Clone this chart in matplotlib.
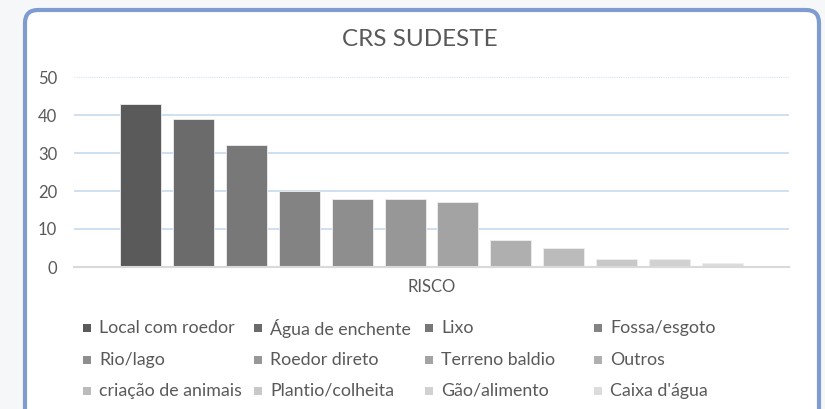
import matplotlib.pyplot as plt
from matplotlib.patches import FancyBboxPatch, Rectangle

# data
categories = ['Local com roedor', 'Água de enchente', 'Lixo', 'Fossa/esgoto',
              'Rio/lago', 'Roedor direto', 'Terreno baldio', 'Outros',
              'criação de animais', 'Plantio/colheita', 'Gão/alimento', "Caixa d'água"]
values = [43, 39, 32, 20, 18, 18, 17, 7, 5, 2, 2, 1]
colors = ['#5a5a5a', '#6b6b6b', '#787878', '#838383', '#8e8e8e', '#979797',
          '#a3a3a3', '#afafaf', '#bbbbbb', '#c8c8c8', '#d1d1d1', '#dcdcdc']
yticks = [0, 10, 20, 30, 40, 50]

plt.rcParams['font.family'] = ['Lato', 'DejaVu Sans']
txt = '#595959'

fig = plt.figure(figsize=(8.25, 4.09), dpi=100, facecolor='#f6f7f9')

# chart frame (blue rounded border)
frame = FancyBboxPatch((0.25, -0.3), 7.94, 4.29, boxstyle='round,pad=0,rounding_size=0.13',
                       transform=fig.dpi_scale_trans, facecolor='white',
                       edgecolor='#7f9cd0', linewidth=3, zorder=-10)
fig.patches.append(frame)

ax = fig.add_axes([74 / 825, 1 - 267 / 409, 715 / 825, 190 / 409])
ax.set_facecolor('none')

x = list(range(len(values)))
ax.bar(x, values, width=0.775, color=colors, edgecolor='#eeeeee', linewidth=0.6, zorder=3)

ax.set_xlim(-1.26, 12.26)
ax.set_ylim(0, 50)
for v in yticks[1:]:
    if v == 50:
        ax.axhline(v, color='#d6e6f4', lw=0.8, ls=(0, (1, 1)), zorder=1, clip_on=False)
    else:
        ax.axhline(v, color='#c6dcef', lw=1.2, zorder=1)
ax.axhline(0, color='#d9d9d9', lw=1.5, zorder=4, clip_on=False)

for s in ax.spines.values():
    s.set_visible(False)
ax.set_yticks(yticks)
ax.tick_params(axis='y', length=0, pad=12, labelsize=12, labelcolor=txt)
ax.set_xticks([(len(values) - 1) / 2])
ax.set_xticklabels(['RISCO'])
ax.tick_params(axis='x', length=0, pad=9, labelsize=12, labelcolor=txt)

fig.text(0.509, 1 - 40 / 409, 'CRS SUDESTE', ha='center', va='center', fontsize=17.5, color=txt)

# legend, 4 equal columns filled row by row like Excel
col_x = [87, 258, 429, 598]
row_y = [328, 360, 391]
for i, (name, c) in enumerate(zip(categories, colors)):
    px = col_x[i % 4]
    py = row_y[i // 4]
    fig.patches.append(Rectangle(((px - 4) / 825, 1 - (py + 4) / 409), 8 / 825, 8 / 409,
                                 transform=fig.transFigure, facecolor=c, edgecolor='none'))
    fig.text((px + 12) / 825, 1 - py / 409, name, ha='left', va='center',
             fontsize=12.8, color=txt)

fig.savefig('out.png', dpi=100, facecolor=fig.get_facecolor())
